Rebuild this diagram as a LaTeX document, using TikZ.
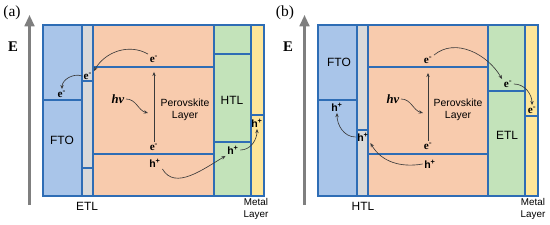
\documentclass[tikz,border=0pt]{standalone}
\usepackage{fontspec}
\setmainfont{Liberation Serif}
\setsansfont{Liberation Sans}
\usetikzlibrary{arrows.meta}
\definecolor{bdblue}{HTML}{2E6DB5}
\definecolor{ftofill}{HTML}{A9C5E9}
\definecolor{pvkfill}{HTML}{F8CBAD}
\definecolor{tlgreen}{HTML}{C3E3BA}
\definecolor{metfill}{HTML}{FFE699}
\definecolor{tlgray}{HTML}{D9D9D9}
\definecolor{axgray}{HTML}{7F7F7F}
\definecolor{arrdark}{HTML}{3A3A3A}

\begin{document}
\begin{tikzpicture}[
  x=0.025cm, y=-0.025cm,
  layer/.style={draw=bdblue, line width=0.8pt},
  band/.style={draw=bdblue, line width=0.8pt},
  axis/.style={draw=axgray, line width=1.5pt, -{Triangle[length=8pt,width=7pt]}},
  flow/.style={draw=arrdark, line width=0.45pt, -{Stealth[length=3pt,width=2.4pt]}},
  lname/.style={font=\sffamily\fontsize{8.5}{10}\selectfont},
  pname/.style={font=\sffamily\fontsize{7.4}{8.6}\selectfont, align=center},
  mname/.style={font=\sffamily\fontsize{7}{8}\selectfont, align=center},
  elec/.style={font=\bfseries\fontsize{8}{9}\selectfont, inner sep=1pt},
  hole/.style={font=\sffamily\bfseries\fontsize{7.5}{9}\selectfont, inner sep=1pt},
  photon/.style={font=\bfseries\itshape\fontsize{9}{10}\selectfont, inner sep=1pt},
  tag/.style={font=\fontsize{11}{12}\selectfont},
  evar/.style={font=\bfseries\fontsize{10.5}{12}\selectfont},
]
  \useasboundingbox (0,0) rectangle (550,224);

  % ---- panel (a): ETL / perovskite / HTL ------------------------------------
  \begin{scope}
    \node[tag] (tagA) at (12,13) {(a)};
    \node[evar] (evarA) at (13,47) {E};
    \coordinate (axAbot) at (29.5,205);
    \coordinate (axAtop) at (29.5,15);
    \draw[axis] (axAbot) -- (axAtop);

    \draw[layer, fill=ftofill] (43,25) rectangle (82,196);
    \draw[layer, fill=tlgray] (82,25) rectangle (93,196);
    \draw[layer, fill=pvkfill] (93,25) rectangle (214,196);
    \draw[layer, fill=tlgreen] (214,25) rectangle (251,196);
    \draw[layer, fill=metfill] (251,25) rectangle (264,196);
    \foreach \xa/\xb/\yy in {43/82/100, 82/93/81, 82/93/168, 93/214/67,
                             93/214/154, 214/251/54, 214/251/142, 251/264/115}
      \draw[band] (\xa,\yy) -- (\xb,\yy);

    \node[lname] (ftoA) at (62,140) {FTO};
    \node[lname] (htlA) at (232,100) {HTL};
    \node[lname] (etlA) at (87,206) {ETL};
    \node[mname] (metA) at (256,209) {Metal\\Layer};
    \node[pname] (pvkA) at (185,110) {Perovskite\\Layer};

    \node[elec] (eFtoA) at (62,94) {e\textsuperscript{-}};
    \node[elec] (eEtlA) at (88,76) {e\textsuperscript{-}};
    \node[elec] (eTopA) at (154,59) {e\textsuperscript{-}};
    \node[elec] (eBotA) at (154,147) {e\textsuperscript{-}};
    \node[hole] (hBotA) at (155,163) {h\textsuperscript{+}};
    \node[hole] (hHtlA) at (233,150) {h\textsuperscript{+}};
    \node[hole] (hMetA) at (257,123) {h\textsuperscript{+}};
    \node[photon] (hvA) at (118,99) {hv};
    \coordinate (hvAend) at (148,113);

    \draw[flow] (hvA.east) to[out=0,in=165] (hvAend);
    \draw[flow, shorten >=2mm] (eBotA.north) -- (eTopA.south);
    \draw[flow] (eTopA.north west) to[out=150,in=60] (eEtlA.north east);
    \draw[flow] (eEtlA.west) to[out=160,in=90] (eFtoA.north);
    \draw[flow] (hBotA.south east) to[out=-60,in=210] (hHtlA.south west);
    \draw[flow] (hHtlA.east) to[out=0,in=-90] (hMetA.south);
  \end{scope}

  % ---- panel (b): HTL / perovskite / ETL ------------------------------------
  \begin{scope}[shift={(275,0)}]
    \node[tag] (tagB) at (10,13) {(b)};
    \node[evar] (evarB) at (13,47) {E};
    \coordinate (axBbot) at (29.5,205);
    \coordinate (axBtop) at (29.5,15);
    \draw[axis] (axBbot) -- (axBtop);

    \draw[layer, fill=ftofill] (43,25) rectangle (82,196);
    \draw[layer, fill=tlgray] (82,25) rectangle (93,196);
    \draw[layer, fill=pvkfill] (93,25) rectangle (213,196);
    \draw[layer, fill=tlgreen] (213,25) rectangle (250,196);
    \draw[layer, fill=metfill] (250,25) rectangle (263,196);
    \foreach \xa/\xb/\yy in {43/82/100, 82/93/130, 93/213/67, 93/213/154,
                             213/250/91, 250/263/116}
      \draw[band] (\xa,\yy) -- (\xb,\yy);

    \node[lname] (ftoB) at (64,62) {FTO};
    \node[lname] (etlB) at (232,135) {ETL};
    \node[lname] (htlB) at (88,206) {HTL};
    \node[mname] (metB) at (258,209) {Metal\\Layer};
    \node[pname] (pvkB) at (183,110) {Perovskite\\Layer};

    \node[hole] (hFtoB) at (62,107) {h\textsuperscript{+}};
    \node[hole] (hHtlB) at (88,137) {h\textsuperscript{+}};
    \node[hole] (hBotB) at (155,164) {h\textsuperscript{+}};
    \node[elec] (eTopB) at (153,60) {e\textsuperscript{-}};
    \node[elec] (eBotB) at (153,146) {e\textsuperscript{-}};
    \node[elec] (eEtlB) at (233,84) {e\textsuperscript{-}};
    \node[elec] (eMetB) at (257,110) {e\textsuperscript{-}};
    \node[photon] (hvB) at (118,99) {hv};
    \coordinate (hvBend) at (148,113);

    \draw[flow] (hvB.east) to[out=0,in=165] (hvBend);
    \draw[flow, shorten >=2mm] (eBotB.north) -- (eTopB.south);
    \draw[flow] (eTopB.north east) to[out=40,in=120] (eEtlB.north west);
    \draw[flow] (eEtlB.east) to[out=0,in=90] (eMetB.north);
    \draw[flow] (hBotB.west) to[out=190,in=-60] (hHtlB.south east);
    \draw[flow] (hHtlB.west) to[out=180,in=-90] (hFtoB.south);
  \end{scope}
\end{tikzpicture}
\end{document}
